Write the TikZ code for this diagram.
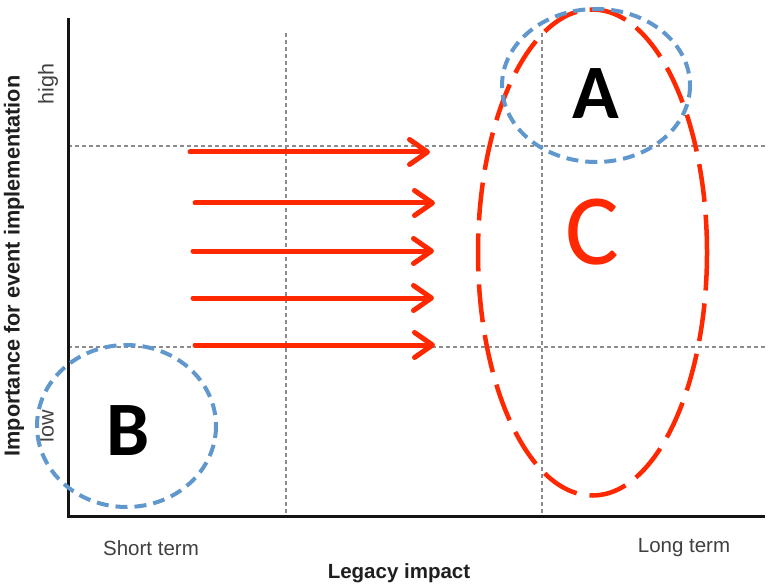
\documentclass[tikz,border=0pt]{standalone}
\usepackage{fontspec}
\setmainfont{Liberation Sans}
\newfontfamily\calib{Carlito}
\usetikzlibrary{arrows.meta}
\definecolor{redc}{RGB}{255,40,0}
\definecolor{bluec}{RGB}{96,152,205}
\definecolor{gridc}{RGB}{140,140,140}
\definecolor{labc}{RGB}{64,64,64}
\tikzset{
  axisline/.style={line width=3bp, black!92},
  gridline/.style={line width=1.1bp, gridc, dash pattern=on 4bp off 3bp},
  redarrow/.style={line width=5bp, redc, line cap=round,
     -{Straight Barb[length=18bp, width=25bp, round]}},
  bluecirc/.style={line width=4bp, bluec, dash pattern=on 12bp off 7bp},
  redcirc/.style={line width=4.5bp, redc, dash pattern=on 38bp off 13bp},
  ticklab/.style={text=labc, font=\fontsize{20.5bp}{24bp}\selectfont, inner sep=0pt},
  vticklab/.style={text=labc, font=\fontsize{21.5bp}{24bp}\selectfont, inner sep=0pt},
  axislab/.style={text=black!88, font=\bfseries\fontsize{20.5bp}{24bp}\selectfont, inner sep=0pt},
  vaxislab/.style={text=black!88, font=\bfseries\fontsize{21.7bp}{24bp}\selectfont, inner sep=0pt},
  biglab/.style={font=\calib\bfseries\fontsize{77bp}{80bp}\selectfont, inner sep=0pt},
}
\begin{document}
\begin{tikzpicture}[x=1bp, y=-1bp]
\useasboundingbox (0,0) rectangle (768,584);
\fill[white] (0,0) rectangle (768,584);
% grid
\coordinate (g1a) at (68,146); \coordinate (g1b) at (768,146);
\coordinate (g2a) at (68,347); \coordinate (g2b) at (768,347);
\coordinate (v1a) at (286,33); \coordinate (v1b) at (286,516);
\coordinate (v2a) at (542,33); \coordinate (v2b) at (542,516);
\draw[gridline] (g1a) -- (g1b);
\draw[gridline] (g2a) -- (g2b);
\draw[gridline] (v1a) -- (v1b);
\draw[gridline] (v2a) -- (v2b);
% axes
\coordinate (top) at (68,18);
\coordinate (orig) at (68,516);
\coordinate (right) at (765,516);
\draw[axisline] (top) -- (orig) -- (right);
% labels
\node[vticklab, rotate=90] (high) at (48,84) {high};
\node[vticklab, rotate=90] (low) at (46,426) {low};
\node[vaxislab, rotate=90] (ylab) at (14,266) {Importance for event implementation};
\node[ticklab] (short) at (151,548) {Short term};
\node[ticklab] (long) at (684,548) {Long term};
\node[axislab] (xlab) at (399,573) {Legacy impact};
% arrows
\coordinate (a1s) at (190,152); \coordinate (a1e) at (430,152);
\coordinate (a2s) at (195,203); \coordinate (a2e) at (435,203);
\coordinate (a3s) at (193,251); \coordinate (a3e) at (434,251);
\coordinate (a4s) at (193,298); \coordinate (a4e) at (434,298);
\coordinate (a5s) at (195,345); \coordinate (a5e) at (435,345);
\draw[redarrow] (a1s) -- (a1e);
\draw[redarrow] (a2s) -- (a2e);
\draw[redarrow] (a3s) -- (a3e);
\draw[redarrow] (a4s) -- (a4e);
\draw[redarrow] (a5s) -- (a5e);
% shapes
\draw[redcirc] (592.5,252.5) ellipse [x radius=114.5, y radius=243];
\draw[bluecirc] (596,85.5) ellipse [x radius=94, y radius=76.5];
\draw[bluecirc] (126.5,426) ellipse [x radius=89.5, y radius=81];
% big letters
\node[biglab] (A) at (596,94) {A};
\node[biglab] (B) at (128,431) {B};
\node[font=\calib\fontsize{101bp}{104bp}\selectfont, text=redc, inner sep=0pt] (C) at (592,232) {C};
\end{tikzpicture}
\end{document}
